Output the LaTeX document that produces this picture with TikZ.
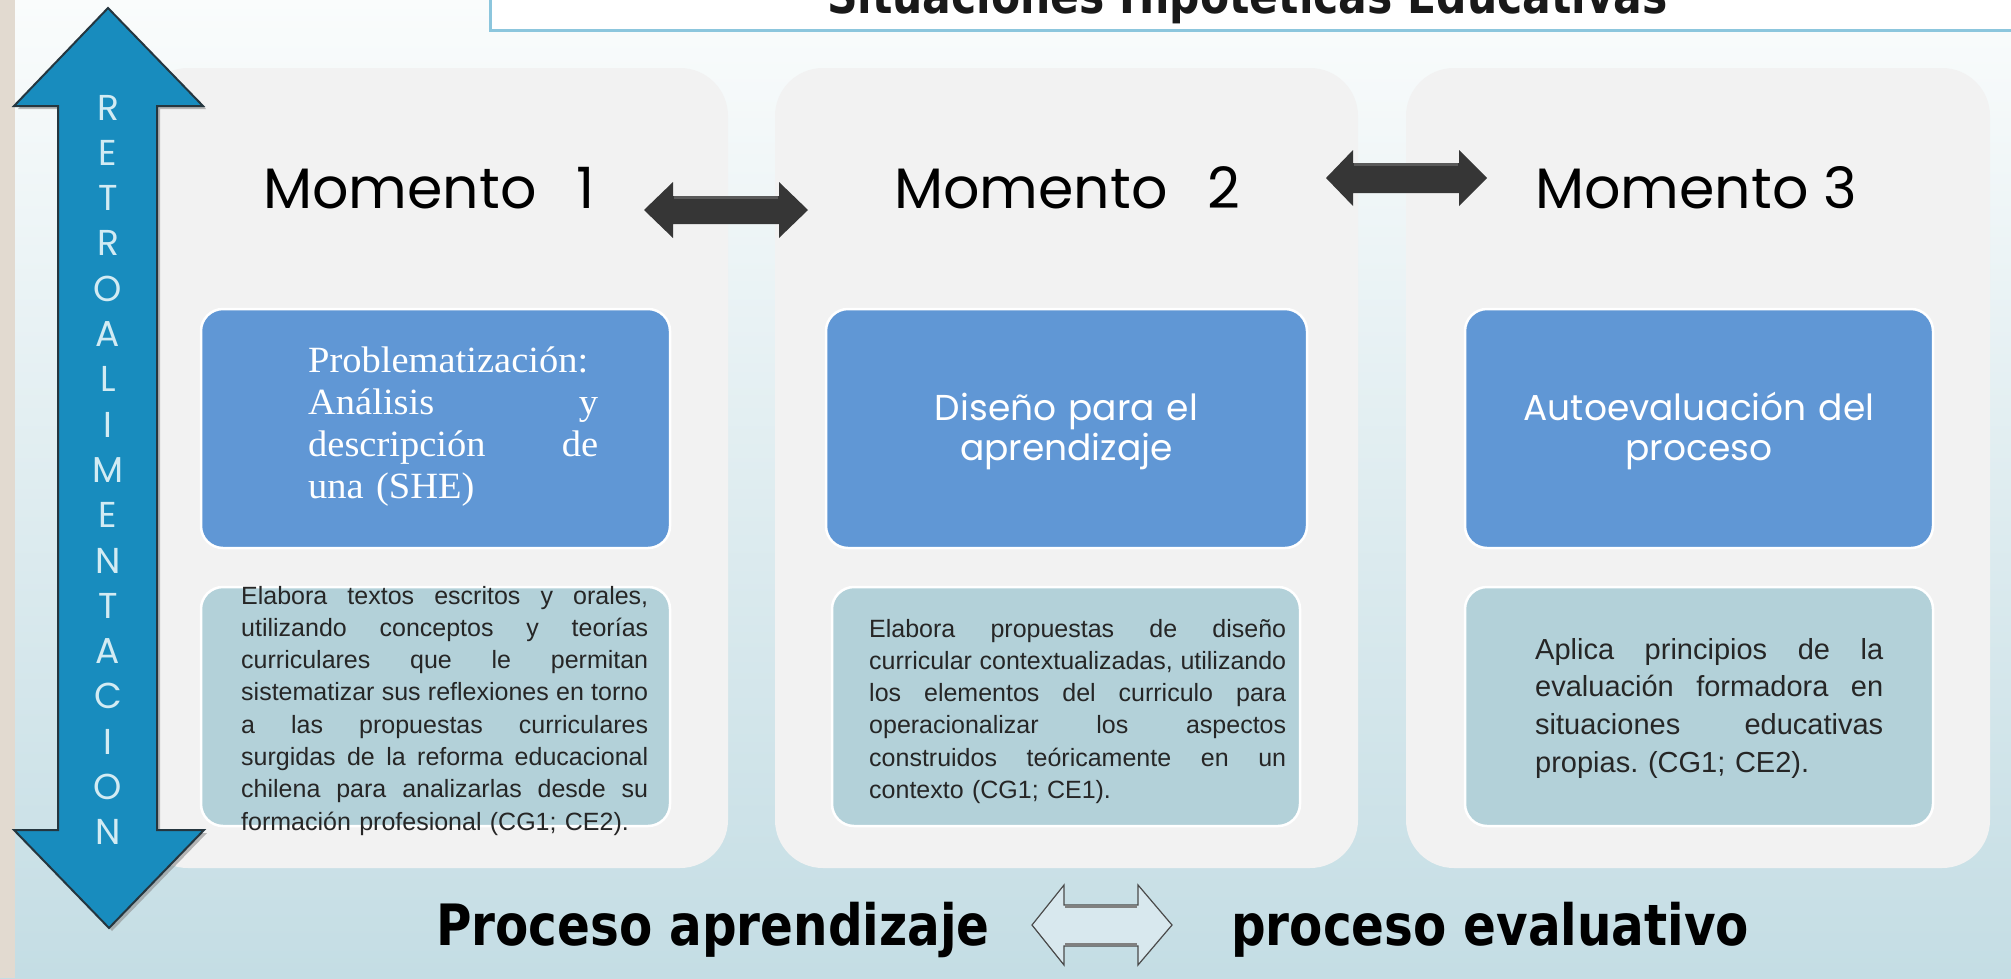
\documentclass[tikz,border=0pt]{standalone}
\usepackage{fontspec}
\setmainfont{Liberation Sans}
\newfontfamily\gothic{Poppins}
\newfontfamily\serifcam[FakeStretch=1.04]{Liberation Serif}
\newfontfamily\boldcond[FakeStretch=0.85]{DejaVu Sans}
\definecolor{bgtop}{HTML}{FAFCFC}
\definecolor{bgbot}{HTML}{C4DDE4}
\definecolor{beige}{HTML}{E2DAD0}
\definecolor{panelgray}{HTML}{F2F2F2}
\definecolor{boxblue}{HTML}{6097D5}
\definecolor{boxlight}{HTML}{B3D1D9}
\definecolor{arrowblue}{HTML}{188CBE}
\definecolor{arrowedge}{HTML}{25363F}
\definecolor{lettercol}{HTML}{D2EBF3}
\definecolor{titleline}{HTML}{8CC6DD}
\definecolor{darkarrow}{HTML}{363636}
\definecolor{darkarrowtop}{HTML}{5A5A5A}
\definecolor{bodytext}{HTML}{262626}
\definecolor{outarrowfill}{HTML}{D8E8EE}
\definecolor{outarrowline}{HTML}{4A4A4A}
\frenchspacing
\newcommand\jline[1]{\hbox to\hsize{\spaceskip=\fontdimen2\font plus 1fil\relax #1}\par}
\tikzset{
  panelbox/.style={fill=panelgray, rounded corners=48pt, inner sep=0pt},
  bluebox/.style={fill=boxblue, draw=white, line width=2.5pt, rounded corners=22pt, inner sep=0pt},
  lightbox/.style={fill=boxlight, draw=white, line width=2.5pt, rounded corners=22pt, inner sep=0pt},
  momento/.style={anchor=base west, inner sep=0pt, font=\gothic\fontsize{57}{60}\selectfont, text=black},
  bluetext/.style={anchor=base, inner sep=0pt, text width=440pt, align=center, font=\gothic\fontsize{36}{40}\selectfont, text=white},
  bodypar/.style={anchor=base west, inner sep=0pt, font=\fontsize{25}{32.3}\selectfont, text=bodytext},
  letter/.style={anchor=base, inner sep=0pt, font=\gothic\fontsize{36}{40}\selectfont, text=lettercol},
  bigbold/.style={anchor=base west, inner sep=0pt, font=\boldcond\bfseries\fontsize{57}{60}\selectfont, text=black},
  darkarr/.style={fill=darkarrow},
  darkarrtop/.style={draw=darkarrowtop, line width=3pt},
}
\begin{document}
\begin{tikzpicture}[x=1pt,y=-1pt]
\useasboundingbox (0,0) rectangle (2011,978);
\clip (0,0) rectangle (2011,978);
% background
\shade[top color=bgtop, bottom color=bgbot] (0,0) rectangle (2011,978);
\fill[beige] (0,0) rectangle (15,978);
% title box
\draw[titleline, line width=3pt, fill=white] (490,-20) rectangle (2040,30);
\node[anchor=base west, inner sep=0pt, font=\boldcond\bfseries\fontsize{50}{55}\selectfont, text=black!90] (title) at (827,13) {Situaciones Hipotéticas Educativas};
% panels
\node[panelbox, minimum width=588pt, minimum height=800pt] (p1) at (434,468) {};
\node[panelbox, minimum width=583pt, minimum height=800pt] (p2) at (1066.5,468) {};
\node[panelbox, minimum width=584pt, minimum height=800pt] (p3) at (1698,468) {};
% blue boxes
\node[bluebox, minimum width=469pt, minimum height=239pt] (b1) at (435.5,428.5) {};
\node[bluebox, minimum width=481pt, minimum height=239pt] (b2) at (1066.5,428.5) {};
\node[bluebox, minimum width=468pt, minimum height=239pt] (b3) at (1699,428.5) {};
% light boxes
\node[lightbox, minimum width=469pt, minimum height=239pt] (l1) at (435.5,706.5) {};
\node[lightbox, minimum width=468pt, minimum height=239pt] (l2) at (1066,706.5) {};
\node[lightbox, minimum width=468pt, minimum height=239pt] (l3) at (1699,706.5) {};
% momento titles
\node[momento] (m1) at (263,208) {Momento\hspace{40pt}1};
\node[momento] (m2) at (894,208) {Momento\hspace{40pt}2};
\node[momento] (m3) at (1535,208) {Momento 3};
% blue box texts
\node[anchor=base west, inner sep=0pt, text width=290pt, font=\serifcam\fontsize{37}{42.1}\selectfont, text=white] (bt1) at (308,372.5) {%
Problematización:\par
\jline{Análisis y}
\jline{descripción de}
una (SHE)};
\node[bluetext] (bt2) at (1066.5,420) {Diseño para el\\aprendizaje};
\node[bluetext] (bt3) at (1699,420) {Autoevaluación del\\proceso};
% light box texts
\node[bodypar, text width=407pt] (lt1) at (241,604) {%
\jline{Elabora textos escritos y orales,}
\jline{utilizando conceptos y teorías}
\jline{curriculares que le permitan}
\jline{sistematizar sus reflexiones en torno}
\jline{a las propuestas curriculares}
\jline{surgidas de la reforma educacional}
\jline{chilena para analizarlas desde su}
formación profesional (CG1; CE2).};
\node[bodypar, text width=417pt] (lt2) at (869,637) {%
\jline{Elabora propuestas de diseño}
\jline{curricular contextualizadas, utilizando}
\jline{los elementos del curriculo para}
\jline{operacionalizar los aspectos}
\jline{construidos teóricamente en un}
contexto (CG1; CE1).};
\node[bodypar, text width=348pt, font=\fontsize{29}{37.7}\selectfont] (lt3) at (1535,659) {%
\jline{Aplica principios de la}
\jline{evaluación formadora en}
\jline{situaciones educativas}
propias. (CG1; CE2).};
% dark double arrows
\fill[darkarr] (644,210) -- (673,182) -- (673,196) -- (779,196) -- (779,182) -- (808,210) -- (779,238) -- (779,224) -- (673,224) -- (673,238) -- cycle;
\draw[darkarrtop] (674,197.5) -- (778,197.5);
\fill[darkarr] (1326,178) -- (1353,150) -- (1353,163) -- (1459,163) -- (1459,150) -- (1487,178) -- (1459,206) -- (1459,193) -- (1353,193) -- (1353,206) -- cycle;
\draw[darkarrtop] (1354,164.5) -- (1458,164.5);
% retroalimentacion arrow
\fill[black!45, opacity=0.6] (111,11) -- (206,109) -- (160,109) -- (160,833) -- (207,833) -- (112,931) -- (17,833) -- (61,833) -- (61,109) -- (18,109) -- cycle;
\filldraw[fill=arrowblue, draw=arrowedge, line width=2pt, line join=miter] (108,8) -- (203,106) -- (157,106) -- (157,830) -- (204,830) -- (109,928) -- (14,830) -- (58,830) -- (58,106) -- (14,106) -- cycle;
\foreach \ch [count=\i from 0] in {R,E,T,R,O,A,L,I,M,E,N,T,A,C,I,O,N}
  \node[letter] (r\i) at (108,{120+45.3*\i}) {\ch};
% bottom line
\node[bigbold] (pa) at (436,945) {Proceso aprendizaje};
\node[bigbold] (pe) at (1231,945) {proceso evaluativo};
\filldraw[fill=outarrowfill, draw=outarrowline, line width=1.2pt] (1032,925) -- (1064,885) -- (1064,905) -- (1138,905) -- (1138,885) -- (1172,925) -- (1138,965) -- (1138,946) -- (1064,946) -- (1064,965) -- cycle;
\draw[black!50, line width=3.5pt] (1065,906.5) -- (1137,906.5);
\draw[black!50, line width=3.5pt] (1065,944.5) -- (1137,944.5);
\end{tikzpicture}
\end{document}
